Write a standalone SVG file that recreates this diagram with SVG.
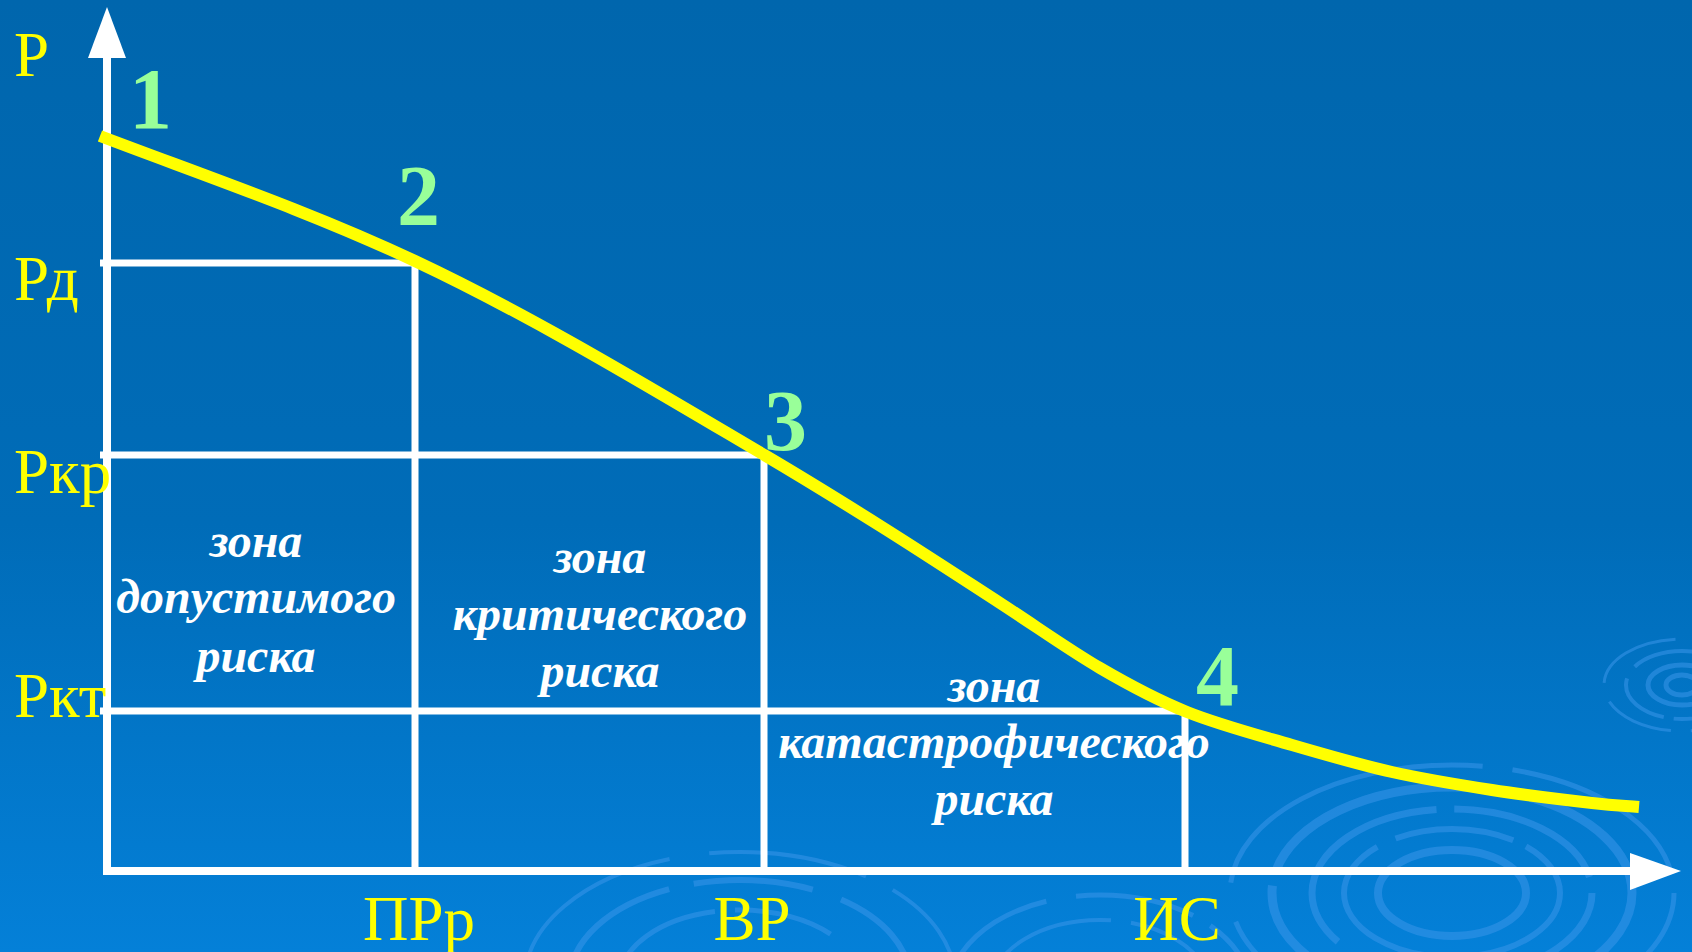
<svg xmlns="http://www.w3.org/2000/svg" width="1692" height="952" viewBox="0 0 1692 952">
  <defs>
    <linearGradient id="bg" x1="0" y1="0" x2="0" y2="1">
      <stop offset="0" stop-color="#0066AD"/>
      <stop offset="0.55" stop-color="#006CB8"/>
      <stop offset="1" stop-color="#0480D8"/>
    </linearGradient>
    <style>
      .grid { stroke: #FFFFFF; stroke-width: 7; fill: none; }
      .axis { stroke: #FFFFFF; stroke-width: 8; fill: none; }
      .head { fill: #FFFFFF; }
      .curve { stroke: #FFFF00; stroke-width: 12; fill: none; }
      .lbl { font-family: "Liberation Serif", "Times New Roman", serif; font-size: 63px; fill: #FFFF00; }
      .num { font-family: "Liberation Serif", "Times New Roman", serif; font-size: 86px; font-weight: bold; fill: #99FF99; }
      .zone { font-family: "Liberation Serif", "Times New Roman", serif; font-size: 48px; font-weight: bold; font-style: italic; fill: #FFFFFF; text-anchor: middle; }
      .rip { fill: none; stroke: #3A95EA; stroke-opacity: 0.55; }
    </style>
  </defs>

  <rect x="0" y="0" width="1692" height="952" fill="url(#bg)"/>

  <g id="ripples">
    <ellipse class="rip" cx="1452" cy="893" rx="74" ry="43" stroke-width="8"/>
    <ellipse class="rip" cx="1452" cy="893" rx="108" ry="64" stroke-width="6" stroke-dasharray="120 14 200 20"/>
    <ellipse class="rip" cx="1452" cy="893" rx="140" ry="84" stroke-width="7" stroke-dasharray="160 20 90 30 220 18"/>
    <ellipse class="rip" cx="1452" cy="893" rx="180" ry="106" stroke-width="9" stroke-dasharray="260 24 180 16"/>
    <ellipse class="rip" cx="1452" cy="893" rx="222" ry="128" stroke-width="5" stroke-dasharray="300 30 200 40"/>
    <ellipse class="rip" cx="1682" cy="685" rx="16" ry="10" stroke-width="5"/>
    <ellipse class="rip" cx="1682" cy="685" rx="34" ry="20" stroke-width="5"/>
    <ellipse class="rip" cx="1682" cy="685" rx="56" ry="34" stroke-width="4" stroke-dasharray="80 10 60 14"/>
    <ellipse class="rip" cx="1682" cy="685" rx="78" ry="46" stroke-width="3" stroke-dasharray="90 20 70 20"/>
    <ellipse class="rip" cx="740" cy="980" rx="120" ry="70" stroke-width="5" stroke-dasharray="140 20 100 30"/>
    <ellipse class="rip" cx="740" cy="980" rx="170" ry="100" stroke-width="6" stroke-dasharray="200 25 120 30"/>
    <ellipse class="rip" cx="740" cy="980" rx="215" ry="128" stroke-width="4" stroke-dasharray="260 40 160 30"/>
    <ellipse class="rip" cx="1100" cy="990" rx="110" ry="70" stroke-width="4" stroke-dasharray="150 20 90 30"/>
    <ellipse class="rip" cx="1100" cy="990" rx="150" ry="95" stroke-width="5" stroke-dasharray="180 30 120 20"/>
  </g>

  <g id="connectors">
    <line class="grid" x1="100" y1="263" x2="419" y2="263"/>
    <line class="grid" x1="100" y1="455" x2="768" y2="455"/>
    <line class="grid" x1="100" y1="711" x2="1189" y2="711"/>
    <line class="grid" x1="415" y1="263" x2="415" y2="871"/>
    <line class="grid" x1="764" y1="455" x2="764" y2="871"/>
    <line class="grid" x1="1185" y1="711" x2="1185" y2="871"/>
    <line class="axis" x1="107" y1="56" x2="107" y2="875"/>
    <polygon class="head" points="107,7 88,58 126,58"/>
    <line class="axis" x1="103" y1="871" x2="1632" y2="871"/>
    <polygon class="head" points="1681,871 1630,853 1630,890"/>
  </g>

  <g id="curve">
    <path class="curve" d="M100,136 C205,175.9 310,211.6 415,261 C532,316 649,387 766,456 C813,483.7 843,502.5 882,527 C921,551.5 963.7,579.5 1000,603 C1036.3,626.5 1068.8,649.8 1100,668 C1131.2,686.2 1155,699.2 1187,712 C1219,724.8 1257.8,735 1292,745 C1326.2,755 1358.7,764.5 1392,772 C1425.3,779.5 1458.7,784.8 1492,790 C1525.3,795.2 1567.5,800.2 1592,803 C1616.5,805.8 1623.3,805.7 1639,807"/>
  </g>

  <g id="axis-labels">
    <text class="lbl" x="14" y="76">Р</text>
    <text class="lbl" x="14" y="300">Рд</text>
    <text class="lbl" x="14" y="493">Ркр</text>
    <text class="lbl" x="14" y="717">Ркт</text>
    <text class="lbl" x="419" y="940" text-anchor="middle">ПРр</text>
    <text class="lbl" x="752" y="940" text-anchor="middle">ВР</text>
    <text class="lbl" x="1177" y="940" text-anchor="middle">ИС</text>
  </g>

  <g id="point-1"><text class="num" x="129" y="128">1</text></g>
  <g id="point-2"><text class="num" x="397" y="225">2</text></g>
  <g id="point-3"><text class="num" x="764" y="450">3</text></g>
  <g id="point-4"><text class="num" x="1196" y="705">4</text></g>

  <g id="zone-acceptable">
    <text class="zone" x="256" y="557">зона</text>
    <text class="zone" x="256" y="613">допустимого</text>
    <text class="zone" x="256" y="672">риска</text>
  </g>
  <g id="zone-critical">
    <text class="zone" x="600" y="573">зона</text>
    <text class="zone" x="600" y="630">критического</text>
    <text class="zone" x="600" y="687">риска</text>
  </g>
  <g id="zone-catastrophic">
    <text class="zone" x="994" y="702">зона</text>
    <text class="zone" x="994" y="758">катастрофического</text>
    <text class="zone" x="994" y="815">риска</text>
  </g>
</svg>
